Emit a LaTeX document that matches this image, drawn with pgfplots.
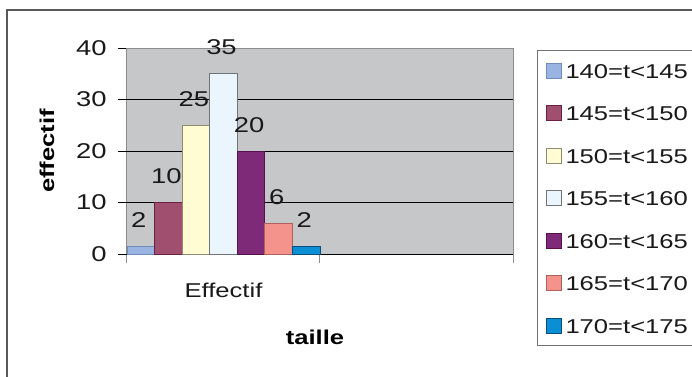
\documentclass[border=0pt]{standalone}
\usepackage{pgfplots}
\pgfplotsset{compat=1.18}
\usepackage{fontspec}
\setmainfont[FakeStretch=1.28]{Liberation Sans}

\definecolor{plotbg}{HTML}{C6C7C9}
\definecolor{c1}{HTML}{99B4E0}\definecolor{c1d}{HTML}{6F8CB8}
\definecolor{c2}{HTML}{A0506E}\definecolor{c2d}{HTML}{6A2046}
\definecolor{c3}{HTML}{FFFBD2}\definecolor{c3d}{HTML}{8E8A70}
\definecolor{c4}{HTML}{EAF5FD}\definecolor{c4d}{HTML}{707478}
\definecolor{c5}{HTML}{7F2A78}\definecolor{c5d}{HTML}{551050}
\definecolor{c6}{HTML}{F4938C}\definecolor{c6d}{HTML}{B0605C}
\definecolor{c7}{HTML}{0A8FD4}\definecolor{c7d}{HTML}{0A4E80}

\begin{document}
\begin{tikzpicture}[font=\fontsize{10}{12}\selectfont]
  % outer chart frame (runs off the right and bottom edges)
  \draw[line width=0.8pt, black!65] (3.5pt,183pt) rectangle (420pt,-20pt);
  \begin{axis}[
    at={(63.5pt,61pt)}, anchor=south west,
    scale only axis, width=193pt, height=103pt,
    xmin=0, xmax=2, ymin=0, ymax=40,
    axis background/.style={fill=plotbg},
    axis line style={draw=black!45, line width=0.5pt},
    /pgf/number format/assume math mode=true,
    tick align=outside, major tick length=4.5pt,
    xtick pos=lower, ytick pos=left,
    ytick={0,10,...,40},
    ytick style={black, line width=0.5pt},
    yticklabel style={anchor=east, inner sep=0pt, xshift=-5.5pt, text=black!90,
      font=\fontsize{10.7}{12}\selectfont},
    extra y ticks={0,10,20,30}, extra y tick labels={},
    extra y tick style={grid=major, major grid style={black, line width=0.5pt}},
    xtick={0,1,2}, xticklabels={},
    xtick style={black!45, line width=0.5pt},
    extra x ticks={0.5}, extra x tick labels={Effectif},
    extra x tick style={major tick length=0pt, grid=none,
      xticklabel style={anchor=north, inner sep=0pt, yshift=-14.5pt, text=black!90}},
    xlabel={\bfseries taille},
    xlabel style={at={(axis description cs:0.487,-0.403)}, anchor=center},
    ylabel={\bfseries effectif},
    ylabel style={at={(axis description cs:-0.207,0.5)}, anchor=center},
    nodes near coords,
    point meta=explicit symbolic,
    every node near coord/.append style={anchor=base, inner sep=0pt, yshift=9.5pt, xshift=-1pt,
      text=black!90, font=\fontsize{10.7}{12}\selectfont},
    legend style={at={(1.0622,0.990)}, anchor=north west,
      draw=black!55, line width=0.5pt, inner xsep=4pt, inner ysep=6pt,
      row sep=13.25pt, column sep=2pt,
      nodes={inner sep=0pt, text height=7.5pt, text depth=0pt, text=black!90}},
    legend cell align=left,
    legend image code/.code={\draw[#1, line width=0.5pt] (0pt,-3.75pt) rectangle (7.5pt,3.75pt);},
  ]
    \addplot[ybar, bar width=0.142857, bar shift=0pt, fill=c1, draw=c1d] coordinates {(0.0714,1.5) [2]};
    \addplot[ybar, bar width=0.142857, bar shift=0pt, fill=c2, draw=c2d] coordinates {(0.2143,10) [10]};
    \addplot[ybar, bar width=0.142857, bar shift=0pt, fill=c3, draw=c3d] coordinates {(0.3571,25) [25]};
    \addplot[ybar, bar width=0.142857, bar shift=0pt, fill=c4, draw=c4d] coordinates {(0.5,35) [35]};
    \addplot[ybar, bar width=0.142857, bar shift=0pt, fill=c5, draw=c5d] coordinates {(0.6429,20) [20]};
    \addplot[ybar, bar width=0.142857, bar shift=0pt, fill=c6, draw=c6d] coordinates {(0.7857,6) [6]};
    \addplot[ybar, bar width=0.142857, bar shift=0pt, fill=c7, draw=c7d] coordinates {(0.9286,1.5) [2]};
    \legend{140=t<145,145=t<150,150=t<155,155=t<160,160=t<165,165=t<170,170=t<175}
  \end{axis}
  \pgfresetboundingbox
  \useasboundingbox (0pt,0pt) rectangle (346pt,188pt);
\end{tikzpicture}
\end{document}
